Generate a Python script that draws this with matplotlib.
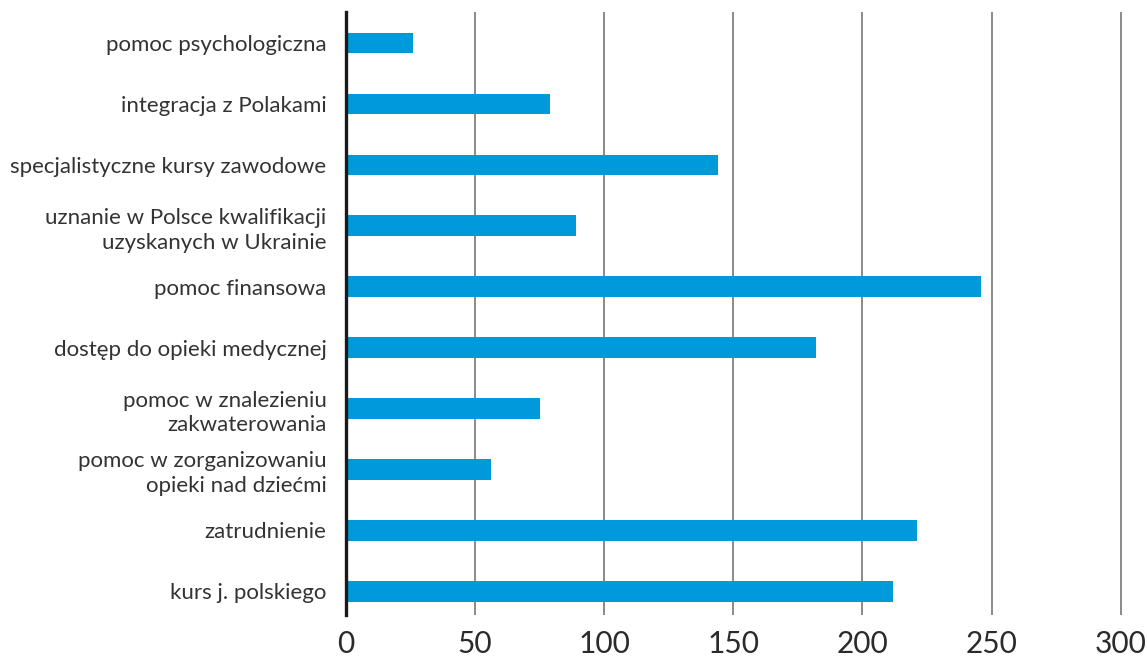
import matplotlib.pyplot as plt

# categories from bottom to top
categories = [
    "kurs j. polskiego",
    "zatrudnienie",
    "pomoc w zorganizowaniu\nopieki nad dziećmi",
    "pomoc w znalezieniu\nzakwaterowania",
    "dostęp do opieki medycznej",
    "pomoc finansowa",
    "uznanie w Polsce kwalifikacji\nuzyskanych w Ukrainie",
    "specjalistyczne kursy zawodowe",
    "integracja z Polakami",
    "pomoc psychologiczna",
]
values = [212, 221, 56, 75, 182, 246, 89, 144, 79, 26]
x_ticks = [0, 50, 100, 150, 200, 250, 300]

plt.rcParams['font.family'] = ['Lato', 'DejaVu Sans']

fig = plt.figure(figsize=(11.47, 6.6), dpi=100)
ax = fig.add_axes([346 / 1147, 1 - 615 / 660, (1122 - 346) / 1147, (615 - 12) / 660])

ypos = list(range(len(categories)))
ax.barh(ypos, values, height=0.34, color='#0099da', zorder=3)

ax.set_xlim(0, 300 * (1122 - 346) / (1120.7 - 346))
ax.set_ylim(-0.39, 9.51)
ax.set_xticks(x_ticks)
ax.set_xticklabels([str(t) for t in x_ticks], fontsize=21.5, color='#2b2b2b')
ax.set_yticks(ypos)
ax.set_yticklabels(categories, fontsize=16, color='#333333', linespacing=1.3)
ax.tick_params(axis='both', length=0)
ax.tick_params(axis='y', pad=14)
ax.tick_params(axis='x', pad=11)

ax.grid(axis='x', color='#8a8a8a', linewidth=1.4, zorder=0)
ax.grid(axis='y', visible=False)
for s in ['top', 'right', 'bottom']:
    ax.spines[s].set_visible(False)
ax.spines['left'].set_linewidth(2.4)
ax.spines['left'].set_color('#1a1a1a')
ax.spines['left'].set_zorder(4)

fig.savefig('out.png', dpi=100)
